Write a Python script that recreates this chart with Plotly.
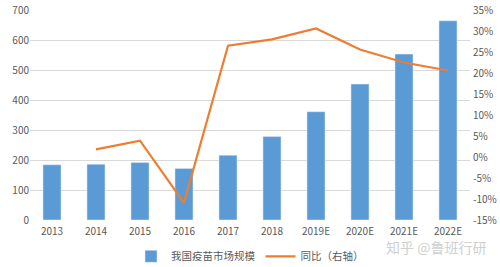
import plotly.graph_objects as go

categories = ["2013", "2014", "2015", "2016", "2017", "2018", "2019E", "2020E", "2021E", "2022E"]
market_size = [184, 186, 192, 172, 216, 278, 361, 453, 553, 664]
yoy_pct = [None, 1.8, 3.9, -10.9, 26.5, 28.0, 30.6, 25.6, 22.5, 20.6]

left_ticks = [0, 100, 200, 300, 400, 500, 600, 700]
right_ticks = [-15, -10, -5, 0, 5, 10, 15, 20, 25, 30, 35]

font_color = "#595959"
fig = go.Figure()
fig.add_trace(go.Bar(x=categories, y=market_size, name="我国疫苗市场规模",
                     marker_color="#5B9BD5", yaxis="y"))
fig.add_trace(go.Scatter(x=categories, y=yoy_pct, name="同比（右轴）", mode="lines",
                         line=dict(color="#ED7D31", width=2.2), yaxis="y2"))

fig.update_layout(
    width=500, height=267,
    margin=dict(l=30, r=30, t=10, b=47, autoexpand=False),
    paper_bgcolor="white", plot_bgcolor="white",
    font=dict(family="Noto Sans CJK SC, Noto Sans, sans-serif", size=10, color=font_color),
    bargap=0.59,
    showlegend=True,
    legend=dict(orientation="h", x=0.5, xanchor="center", y=0.04, yanchor="middle",
                yref="container", font=dict(size=10.5, color=font_color),
                itemwidth=30, tracegroupgap=0),
    xaxis=dict(showgrid=False, showline=False, ticks="", ticklabelstandoff=4,
               tickfont=dict(size=10, color=font_color)),
    yaxis=dict(range=[0, 700], tickvals=left_ticks, showgrid=True, gridcolor="#D9D9D9",
               gridwidth=1, zeroline=False, ticks="", tickfont=dict(size=10, color=font_color)),
    yaxis2=dict(range=[-15, 35], tickvals=right_ticks,
                ticktext=[f"{v}%" for v in right_ticks], overlaying="y", side="right",
                showgrid=False, zeroline=False, ticks="", ticklabelstandoff=2,
                tickfont=dict(size=10, color=font_color)),
)
fig.add_annotation(text="知乎 @鲁班行研", xref="paper", yref="paper", x=1.04, y=-0.129,
                   xanchor="right", yanchor="middle", showarrow=False,
                   font=dict(size=14, color="#D0D0D0"))
fig.write_html("out.html")
